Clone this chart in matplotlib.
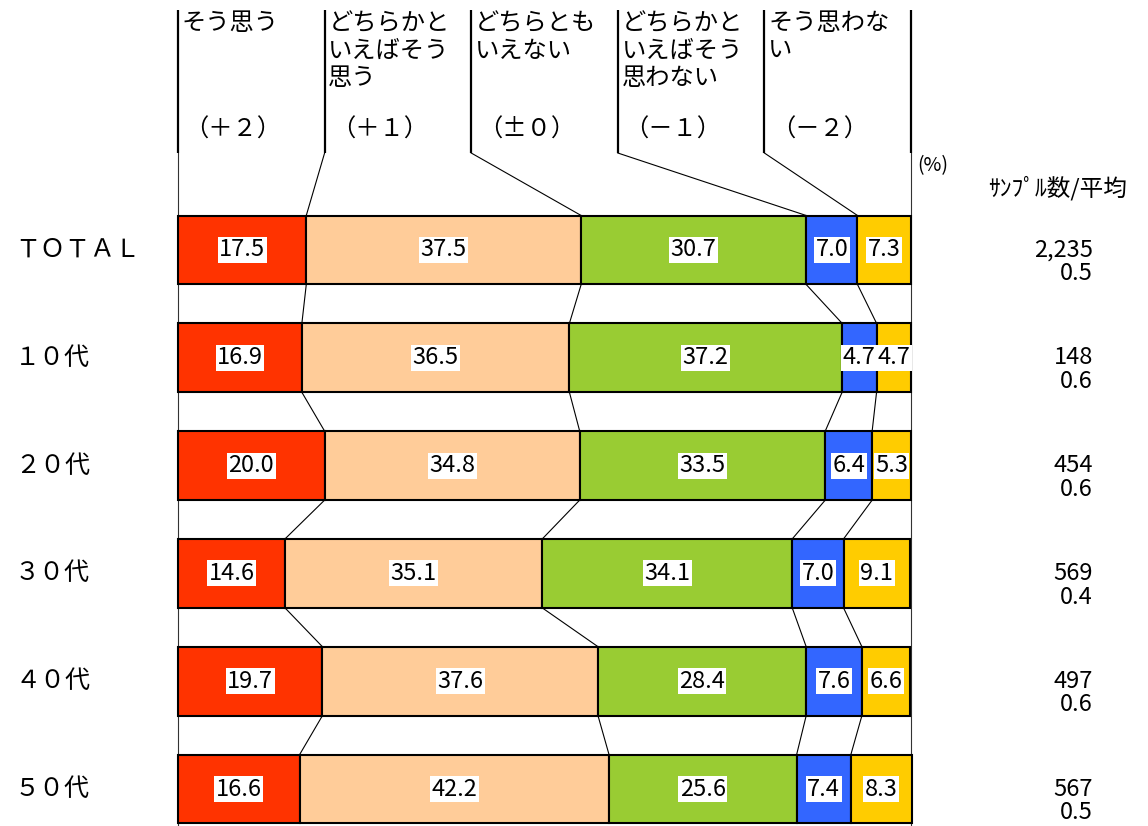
import matplotlib
matplotlib.use("Agg")
import matplotlib.pyplot as plt
import numpy as np

plt.rcParams['font.family'] = ['Noto Sans CJK JP', 'DejaVu Sans']

# data
groups = ['ＴＯＴＡＬ', '１０代', '２０代', '３０代', '４０代', '５０代']
categories = ['そう思う', 'どちらかと\nいえばそう\n思う', 'どちらとも\nいえない',
              'どちらかと\nいえばそう\n思わない', 'そう思わな\nい']
scores = ['（＋２）', '（＋１）', '（±０）', '（－１）', '（－２）']
agree = [17.5, 16.9, 20.0, 14.6, 19.7, 16.6]
rather_agree = [37.5, 36.5, 34.8, 35.1, 37.6, 42.2]
neutral = [30.7, 37.2, 33.5, 34.1, 28.4, 25.6]
rather_disagree = [7.0, 4.7, 6.4, 7.0, 7.6, 7.4]
disagree = [7.3, 4.7, 5.3, 9.1, 6.6, 8.3]
samples = ['2,235', '148', '454', '569', '497', '567']
means = ['0.5', '0.6', '0.6', '0.4', '0.6', '0.5']
colors = ['#FF3300', '#FFCC99', '#99CC33', '#3366FF', '#FFCC00']

# layout (pixel mapping of the reference)
X0, XW = 178, 7.33      # px of 0 %, px per %
Y0, YP = 250, 107.8     # px of first row centre, px per row
W, H = 1148, 826
bar_h = 0.64

fig = plt.figure(figsize=(W / 100, H / 100), dpi=100)
ax = fig.add_axes([0, 0, 1, 1])
ax.set_xlim(-X0 / XW, (W - X0) / XW)
ax.set_ylim((H - Y0) / YP, -Y0 / YP)
ax.axis('off')

def py(p):
    return (p - Y0) / YP

data = np.array([agree, rather_agree, neutral, rather_disagree, disagree]).T
cum = np.hstack([np.zeros((len(groups), 1)), np.cumsum(data, axis=1)])
rows = np.arange(len(groups))

# header
head_top, head_bot = py(10), py(153)
for k in range(6):
    ax.plot([20 * k, 20 * k], [head_top, head_bot], color='black', lw=1.6, solid_capstyle='butt')
for k in range(5):
    ax.text(20 * k + 0.5, py(10), categories[k], ha='left', va='top', fontsize=17.5,
            linespacing=1.08)
    ax.text(20 * k + 0.9, py(130), scores[k], ha='left', va='center', fontsize=17.5)

# outer thin lines
ax.plot([0, 0], [head_bot, py(H)], color='#333333', lw=0.8)
ax.plot([100, 100], [head_bot, py(H)], color='#333333', lw=0.8)

# slanted connectors: header -> first bar
for k in range(1, 5):
    ax.plot([20 * k, cum[0, k]], [head_bot, -bar_h / 2], color='black', lw=0.8)

# connectors between bars
for i in range(len(groups) - 1):
    for k in range(1, 5):
        ax.plot([cum[i, k], cum[i + 1, k]], [i + bar_h / 2, i + 1 - bar_h / 2],
                color='black', lw=0.8)

# bars
for k in range(5):
    ax.barh(rows, data[:, k], left=cum[:, k], height=bar_h, color=colors[k],
            edgecolor='black', linewidth=1.5, zorder=3)
    for i in rows:
        ax.text(cum[i, k] + data[i, k] / 2, i, f'{data[i, k]:.1f}', ha='center',
                va='center', fontsize=17, zorder=5,
                bbox=dict(facecolor='white', edgecolor='none', pad=1))

# row labels and right-side numbers
for i in rows:
    ax.text(-X0 / XW + 15 / XW, i, groups[i], ha='left', va='center', fontsize=18)
    ax.text((1093 - X0) / XW, i, samples[i], ha='right', va='center', fontsize=17)
    ax.text((1093 - X0) / XW, i + 0.22, means[i], ha='right', va='center', fontsize=17)

ax.text(100.9, py(166), '(%)', ha='left', va='center', fontsize=14)
ax.text((988 - X0) / XW, py(188), 'ｻﾝﾌﾟﾙ数/平均', ha='left', va='center', fontsize=17)

fig.savefig('out.png', dpi=100)
